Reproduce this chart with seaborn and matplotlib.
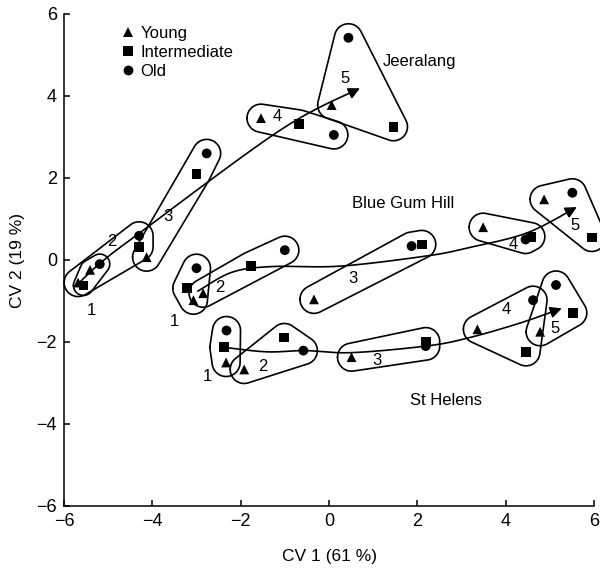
import numpy as np
import pandas as pd
import matplotlib
matplotlib.use("Agg")
import matplotlib.pyplot as plt
import seaborn as sns

# ------------------------------------------------------------------
# Data
# rows = group 1..5, columns = Young, Intermediate, Old
# ------------------------------------------------------------------
ages = ["Young", "Intermediate", "Old"]
groups = [1, 2, 3, 4, 5]

jeer_cv1 = [[-5.41, -5.56, -5.19], [-5.68, -4.30, -4.30], [-4.13, -3.00, -2.77],
            [-1.54, -0.68, 0.11], [0.06, 1.46, 0.44]]
jeer_cv2 = [[-0.24, -0.62, -0.10], [-0.55, 0.32, 0.59], [0.07, 2.10, 2.60],
            [3.46, 3.32, 3.05], [3.78, 3.25, 5.42]]

blue_cv1 = [[-3.07, -3.22, -3.00], [-2.85, -1.77, -1.00], [-0.34, 2.10, 1.87],
            [3.49, 4.57, 4.45], [4.87, 5.95, 5.51]]
blue_cv2 = [[-0.98, -0.69, -0.20], [-0.81, -0.14, 0.24], [-0.96, 0.38, 0.34],
            [0.80, 0.57, 0.50], [1.48, 0.55, 1.64]]

stel_cv1 = [[-2.33, -2.38, -2.32], [-1.92, -1.01, -0.58], [0.51, 2.19, 2.19],
            [3.36, 4.46, 4.62], [4.78, 5.52, 5.14]]
stel_cv2 = [[-2.50, -2.13, -1.72], [-2.67, -1.89, -2.21], [-2.37, -1.99, -2.10],
            [-1.69, -2.24, -0.98], [-1.75, -1.29, -0.61]]

# trajectory through the groups (start -> arrow head)
jeer_path_x = [-5.71, -5.15, -4.30, -1.10, 0.70]
jeer_path_y = [-0.61, -0.05, 0.65, 3.17, 4.19]
blue_path_x = [-2.97, -2.20, -1.30, 0.25, 2.22, 3.12, 4.48, 5.61]
blue_path_y = [-0.76, -0.30, -0.16, -0.15, 0.10, 0.29, 0.66, 1.29]
stel_path_x = [-2.38, -1.41, -0.54, 0.51, 2.19, 3.12, 4.32, 5.27]
stel_path_y = [-2.13, -2.24, -2.21, -2.26, -2.10, -1.91, -1.54, -1.18]

# labels
site_names = ["Jeeralang", "Blue Gum Hill", "St Helens"]
site_label_x = [2.06, 1.68, 2.66]
site_label_y = [4.84, 1.38, -3.43]

jeer_num_x = [-5.39, -4.92, -3.64, -1.18, 0.36]
jeer_num_y = [-1.24, 0.45, 1.06, 3.50, 4.43]
blue_num_x = [-3.49, -2.47, 0.54, 4.17, 5.57]
blue_num_y = [-1.50, -0.67, -0.44, 0.39, 0.83]
stel_num_x = [-2.76, -1.49, 1.08, 4.02, 5.12]
stel_num_y = [-2.85, -2.60, -2.44, -1.20, -1.67]

# ------------------------------------------------------------------
# Long table for seaborn
# ------------------------------------------------------------------
rows = []
for site, cv1, cv2 in zip(site_names, [jeer_cv1, blue_cv1, stel_cv1],
                          [jeer_cv2, blue_cv2, stel_cv2]):
    for g, xr, yr in zip(groups, cv1, cv2):
        for age, x, y in zip(ages, xr, yr):
            rows.append({"site": site, "group": g, "age": age, "cv1": x, "cv2": y})
df = pd.DataFrame(rows)

# ------------------------------------------------------------------
# Figure
# ------------------------------------------------------------------
sns.set_style("ticks")
plt.rcParams["font.family"] = ["Liberation Sans", "DejaVu Sans"]
for key in ["text.color", "axes.labelcolor", "xtick.color", "ytick.color",
            "axes.edgecolor"]:
    plt.rcParams[key] = "black"

fig = plt.figure(figsize=(6, 5.77), dpi=100)
ax = fig.add_axes([64 / 600, 71 / 577, 530 / 600, 492 / 577])
ax.set_xlim(-6, 6)
ax.set_ylim(-6, 6)


def hull(points):
    pts = sorted(map(tuple, points))
    def cross(o, a, b):
        return (a[0] - o[0]) * (b[1] - o[1]) - (a[1] - o[1]) * (b[0] - o[0])
    lower, upper = [], []
    for p in pts:
        while len(lower) >= 2 and cross(lower[-2], lower[-1], p) <= 0:
            lower.pop()
        lower.append(p)
    for p in reversed(pts):
        while len(upper) >= 2 and cross(upper[-2], upper[-1], p) <= 0:
            upper.pop()
        upper.append(p)
    return np.array(lower[:-1] + upper[:-1])


def group_loop(xs, ys, pad=14):
    # padded hull around the group's points, in pixel space
    pix = ax.transData.transform(np.column_stack([xs, ys]))
    t = np.linspace(0, 2 * np.pi, 72, endpoint=False)
    ring = np.column_stack([np.cos(t), np.sin(t)]) * pad
    cloud = np.vstack([p + ring for p in pix])
    h = hull(cloud)
    h = np.vstack([h, h[:1]])
    return ax.transData.inverted().transform(h)


def smooth(xs, ys, n=25):
    pts = ax.transData.transform(np.column_stack([xs, ys]))
    pts = np.vstack([pts[0], pts, pts[-1]])
    out = []
    tt = np.linspace(0, 1, n, endpoint=False)[:, None]
    for i in range(1, len(pts) - 2):
        p0, p1, p2, p3 = pts[i - 1:i + 3]
        out.append(0.5 * (2 * p1 + (-p0 + p2) * tt
                          + (2 * p0 - 5 * p1 + 4 * p2 - p3) * tt ** 2
                          + (-p0 + 3 * p1 - 3 * p2 + p3) * tt ** 3))
    out.append(pts[-2][None])
    return ax.transData.inverted().transform(np.vstack(out))


# loops around each group
for site in site_names:
    for g in groups:
        sub = df[(df.site == site) & (df.group == g)]
        pad = 10 if (site == "Jeeralang" and g == 1) else 14
        loop = group_loop(sub.cv1.values, sub.cv2.values, pad)
        ax.plot(loop[:, 0], loop[:, 1], color="black", lw=1.2, clip_on=False)

# trajectories with arrow heads
for px, py in [(jeer_path_x, jeer_path_y), (blue_path_x, blue_path_y),
               (stel_path_x, stel_path_y)]:
    curve = smooth(px, py)
    ax.plot(curve[:-3, 0], curve[:-3, 1], color="black", lw=1.2)
    ax.annotate("", xy=curve[-1], xytext=curve[-4],
                arrowprops=dict(arrowstyle="-|>", color="black", lw=1.2,
                                mutation_scale=17, shrinkA=0, shrinkB=0))

# points
sns.scatterplot(data=df, x="cv1", y="cv2", style="age", style_order=ages,
                markers={"Young": "^", "Intermediate": "s", "Old": "o"},
                color="black", edgecolor="black", linewidth=0, s=50,
                ax=ax, clip_on=False, zorder=3)

# text labels
for name, x, y in zip(site_names, site_label_x, site_label_y):
    ax.text(x, y, name, ha="center", va="center", fontsize=12)
for nx, ny in [(jeer_num_x, jeer_num_y), (blue_num_x, blue_num_y),
               (stel_num_x, stel_num_y)]:
    for g, x, y in zip(groups, nx, ny):
        ax.text(x, y, str(g), ha="center", va="center", fontsize=12)

leg = ax.legend(loc="upper left", bbox_to_anchor=(0.08, 1.0), frameon=False,
                fontsize=12, handletextpad=0.15, labelspacing=0.25,
                handlelength=1.2, borderaxespad=0.3)

ax.set_xticks(np.arange(-6, 7, 2))
ax.set_yticks(np.arange(-6, 7, 2))
ax.tick_params(direction="in", length=4, width=1.1, labelsize=13, pad=5)
for s in ["left", "bottom"]:
    ax.spines[s].set_linewidth(1.1)
sns.despine(ax=ax)
ax.set_xlabel("CV 1 (61 %)", fontsize=12.5, labelpad=14)
ax.set_ylabel("CV 2 (19 %)", fontsize=12.5, labelpad=8)

fig.savefig("out.png", dpi=100)
